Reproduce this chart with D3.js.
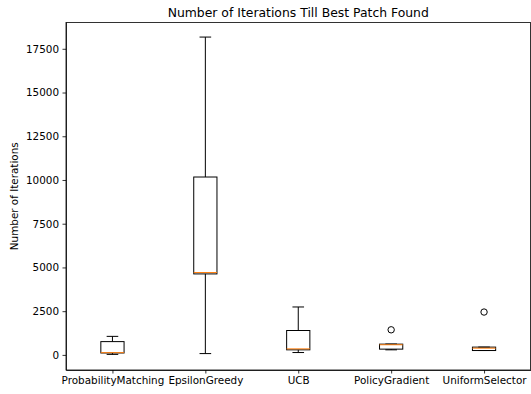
<!DOCTYPE html>
<html>
<head>
<meta charset="utf-8">
<style>
body { margin: 0; background: #fff; }
.axis text { font: 10.4px "DejaVu Sans", sans-serif; fill: #000; }
.axis path, .axis line { fill: none; stroke: #000; stroke-width: 0.8; }
</style>
</head>
<body>
<script src="https://unpkg.com/d3@7/dist/d3.min.js"></script>
<script>
    // box statistics
    const selectors = ["ProbabilityMatching", "EpsilonGreedy", "UCB", "PolicyGradient", "UniformSelector"];
    const whiskerLow = [30, 75, 135, 290, 250];
    const q1 = [110, 4630, 290, 330, 250];
    const median = [130, 4710, 345, 580, 385];
    const q3 = [760, 10170, 1395, 615, 445];
    const whiskerHigh = [1060, 18170, 2740, 620, 445];
    const outliers = [[], [], [], [1435], [2450]];
    const yTicks = [0, 2500, 5000, 7500, 10000, 12500, 15000, 17500];

    const W = 531, H = 394;
    const margin = {top: 22.5, right: 0.5, bottom: 24, left: 66};
    const width = W - margin.left - margin.right,
        height = H - margin.top - margin.bottom;

    const svg = d3.select("body").append("svg")
        .attr("width", W)
        .attr("height", H);
    const g = svg.append("g")
        .attr("transform", `translate(${margin.left},${margin.top})`);

    const x = d3.scaleLinear().domain([0.5, 5.5]).range([0, width]);
    const y = d3.scaleLinear().domain([-863, 19003]).range([height, 0]);

    // axes
    g.append("g")
        .attr("class", "axis")
        .call(d3.axisLeft(y).tickValues(yTicks).tickSize(3.5).tickSizeOuter(0).tickPadding(3.5).tickFormat(d3.format("d")));

    g.append("g")
        .attr("class", "axis")
        .attr("transform", `translate(0,${height})`)
        .call(d3.axisBottom(x).tickValues([1, 2, 3, 4, 5]).tickSize(3.5).tickSizeOuter(0).tickPadding(3.5)
            .tickFormat((d) => selectors[d - 1]));

    // frame
    g.append("rect")
        .attr("width", width).attr("height", height)
        .attr("fill", "none").attr("stroke", "#000").attr("stroke-width", 0.8);

    const boxW = x(1.25) - x(1);
    const capW = boxW / 2;
    const stroke = "#000";

    selectors.forEach((s, i) => {
        const cx = x(i + 1);
        const b = g.append("g");
        // whiskers
        b.append("line").attr("x1", cx).attr("x2", cx).attr("y1", y(q3[i])).attr("y2", y(whiskerHigh[i]))
            .attr("stroke", stroke).attr("stroke-width", 1);
        b.append("line").attr("x1", cx).attr("x2", cx).attr("y1", y(q1[i])).attr("y2", y(whiskerLow[i]))
            .attr("stroke", stroke).attr("stroke-width", 1);
        // caps
        [whiskerLow[i], whiskerHigh[i]].forEach(v => {
            b.append("line").attr("x1", cx - capW / 2).attr("x2", cx + capW / 2).attr("y1", y(v)).attr("y2", y(v))
                .attr("stroke", stroke).attr("stroke-width", 1);
        });
        // box
        b.append("rect")
            .attr("x", cx - boxW / 2).attr("width", boxW)
            .attr("y", y(q3[i])).attr("height", Math.max(0, y(q1[i]) - y(q3[i])))
            .attr("fill", "none").attr("stroke", stroke).attr("stroke-width", 1);
        // median
        b.append("line").attr("x1", cx - boxW / 2).attr("x2", cx + boxW / 2)
            .attr("y1", y(median[i])).attr("y2", y(median[i]))
            .attr("stroke", "#ff7f0e").attr("stroke-width", 1);
        // fliers
        b.selectAll("circle").data(outliers[i]).enter().append("circle")
            .attr("cx", cx).attr("cy", d => y(d)).attr("r", 3.2)
            .attr("fill", "none").attr("stroke", stroke).attr("stroke-width", 1);
    });

    svg.append("text")
        .attr("x", margin.left + width / 2).attr("y", 17)
        .attr("text-anchor", "middle")
        .attr("font-family", "DejaVu Sans").attr("font-size", 12.4)
        .text("Number of Iterations Till Best Patch Found");

    svg.append("text")
        .attr("transform", `translate(18,${margin.top + height / 2}) rotate(-90)`)
        .attr("text-anchor", "middle")
        .attr("font-family", "DejaVu Sans").attr("font-size", 10.4)
        .text("Number of Iterations");
</script>
</body>
</html>
